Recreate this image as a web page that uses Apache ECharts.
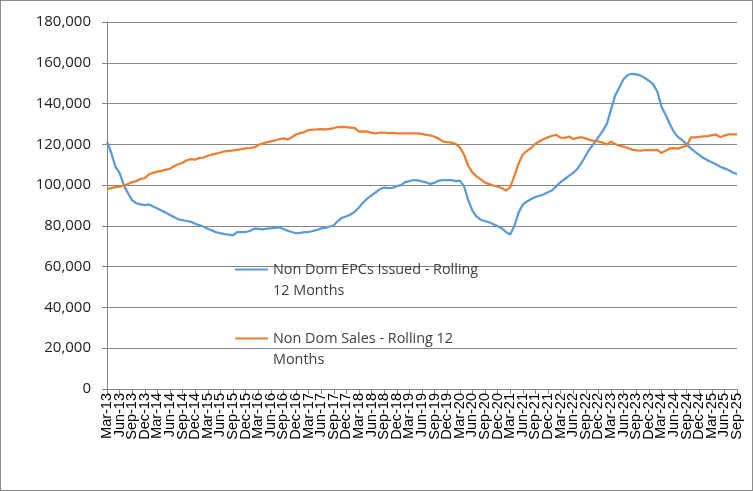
<!DOCTYPE html>
<html>
<head>
<meta charset="utf-8">
<script src="https://cdn.jsdelivr.net/npm/echarts@6/dist/echarts.min.js"></script>
<style>
html,body{margin:0;padding:0;background:#fff;}
#wrap{position:relative;width:753px;height:491px;}
#chart{position:absolute;left:0;top:0;width:753px;height:491px;}
#frame{position:absolute;left:0;top:0;width:753px;height:491px;box-sizing:border-box;border:1px solid #8c8c8c;pointer-events:none;}
</style>
</head>
<body>
<div id="wrap"><div id="chart"></div><div id="frame"></div></div>
<script>
// Months Mar-13 .. Sep-25
var monthNames = ['Jan','Feb','Mar','Apr','May','Jun','Jul','Aug','Sep','Oct','Nov','Dec'];
var categories = [];
for (var y = 2013, m = 2; y < 2025 || (y === 2025 && m <= 8); ) {
  categories.push(monthNames[m] + '-' + String(y).slice(2));
  m++; if (m > 11) { m = 0; y++; }
}
var labelEvery = 3;

var seriesNames = ['Non Dom EPCs Issued - Rolling 12 Months', 'Non Dom Sales - Rolling 12 Months'];
var legendLabels = ['Non Dom EPCs Issued - Rolling\n12 Months', 'Non Dom Sales - Rolling 12\nMonths'];

var epcsIssued = [
  121300,116000,109000,106000,100000,96000,92500,91000,90600,90200,
  90500,89500,88500,87500,86500,85300,84300,83200,82800,82400,
  82000,81000,80400,79600,78600,77800,76800,76400,76000,75700,
  75400,76900,77000,77000,77500,78600,78500,78300,78600,78800,
  79000,79300,78500,77600,77000,76400,76600,76900,77000,77500,
  78000,78800,79000,79700,80300,82500,84000,84700,85600,87000,
  89000,91500,93500,95000,96500,98000,98800,98500,98700,99500,
  100000,101500,102000,102500,102300,101800,101300,100600,101200,102200,
  102500,102500,102400,102000,102200,99500,92700,87500,84500,83000,
  82300,81800,80800,79800,78800,77000,75800,80000,86500,90500,
  92000,93200,94200,94800,95500,96500,97500,99500,101500,103000,
  104500,106000,108000,111000,114500,118000,120500,123500,126500,130000,
  137000,144000,148000,152000,154000,154600,154300,153800,152600,151200,
  149500,146000,138500,134500,130000,126000,123500,122000,120000,118000,
  116300,114800,113300,112200,111200,110200,109000,108200,107400,106200,
  105400
];

var sales = [
  98000,98500,99000,99200,99800,100500,101500,102000,103000,103500,
  105300,106000,106600,107000,107600,108000,109400,110200,111000,112200,
  112700,112500,113300,113500,114400,115000,115400,116000,116600,116800,
  117000,117300,117600,118000,118200,118500,119500,120500,121000,121500,
  121900,122500,122900,122400,123500,124800,125500,126000,127000,127200,
  127300,127500,127300,127600,128000,128500,128600,128400,128200,128000,
  126200,126300,126200,125600,125400,125800,125800,125500,125600,125400,
  125400,125400,125400,125400,125400,125100,124600,124400,123700,122800,
  121400,121100,120800,120200,118500,115000,109500,106200,104300,102800,
  101200,100500,99800,99200,98600,97300,99000,104500,110500,115000,
  116800,118200,120300,121500,122600,123500,124200,124600,123300,123200,
  123800,122600,123200,123500,122800,122100,121700,121400,120800,120000,
  121300,120200,119300,118900,118200,117400,117000,116900,117100,117200,
  117200,117300,115800,116800,118000,118100,117900,118700,119200,123400,
  123400,123700,123900,124000,124500,124800,123500,124300,124900,124900,
  124900
];

var yMin = 0, yMax = 180000, yStep = 20000;

var chart = echarts.init(document.getElementById('chart'), null, {renderer: 'canvas'});
chart.setOption({
  animation: false,
  backgroundColor: '#ffffff',
  color: ['#5B9BD5', '#ED7D31'],
  grid: {left: 107, right: 16, top: 22, bottom: 102, containLabel: false},
  legend: {
    orient: 'vertical',
    left: 235,
    top: 238,
    padding: 0,
    itemGap: 6,
    itemWidth: 33,
    itemHeight: 2,
    icon: 'rect',
    data: seriesNames,
    formatter: function (name) {
      return '\n' + legendLabels[seriesNames.indexOf(name)];
    },
    textStyle: {fontFamily: 'Open Sans', fontSize: 14.4, color: '#404040', lineHeight: 21}
  },
  xAxis: {
    type: 'category',
    data: categories,
    boundaryGap: false,
    axisLine: {lineStyle: {color: '#868686', width: 1}},
    axisTick: {show: true, interval: labelEvery - 1, length: 5, lineStyle: {color: '#868686'}},
    axisLabel: {
      interval: 0, rotate: 90, margin: 4,
      formatter: function (v, i) { return i % labelEvery === 0 ? v : ''; },
      fontFamily: 'Liberation Sans', fontSize: 14.5, color: '#000'
    },
    splitLine: {show: false}
  },
  yAxis: {
    type: 'value',
    min: yMin, max: yMax, interval: yStep,
    axisLine: {show: true, lineStyle: {color: '#868686', width: 1}},
    axisTick: {show: true, length: 5, lineStyle: {color: '#868686'}},
    axisLabel: {
      margin: 16, fontFamily: 'Open Sans', fontSize: 15, color: '#222',
      formatter: function (v) { return v.toLocaleString('en-US'); }
    },
    splitLine: {show: true, lineStyle: {color: '#868686', width: 1}}
  },
  series: [
    {name: seriesNames[0], type: 'line', data: epcsIssued, symbol: 'none', lineStyle: {width: 2.25, color: '#5B9BD5'}, itemStyle: {color: '#5B9BD5'}},
    {name: seriesNames[1], type: 'line', data: sales, symbol: 'none', lineStyle: {width: 2.25, color: '#ED7D31'}, itemStyle: {color: '#ED7D31'}}
  ]
});
</script>
</body>
</html>
